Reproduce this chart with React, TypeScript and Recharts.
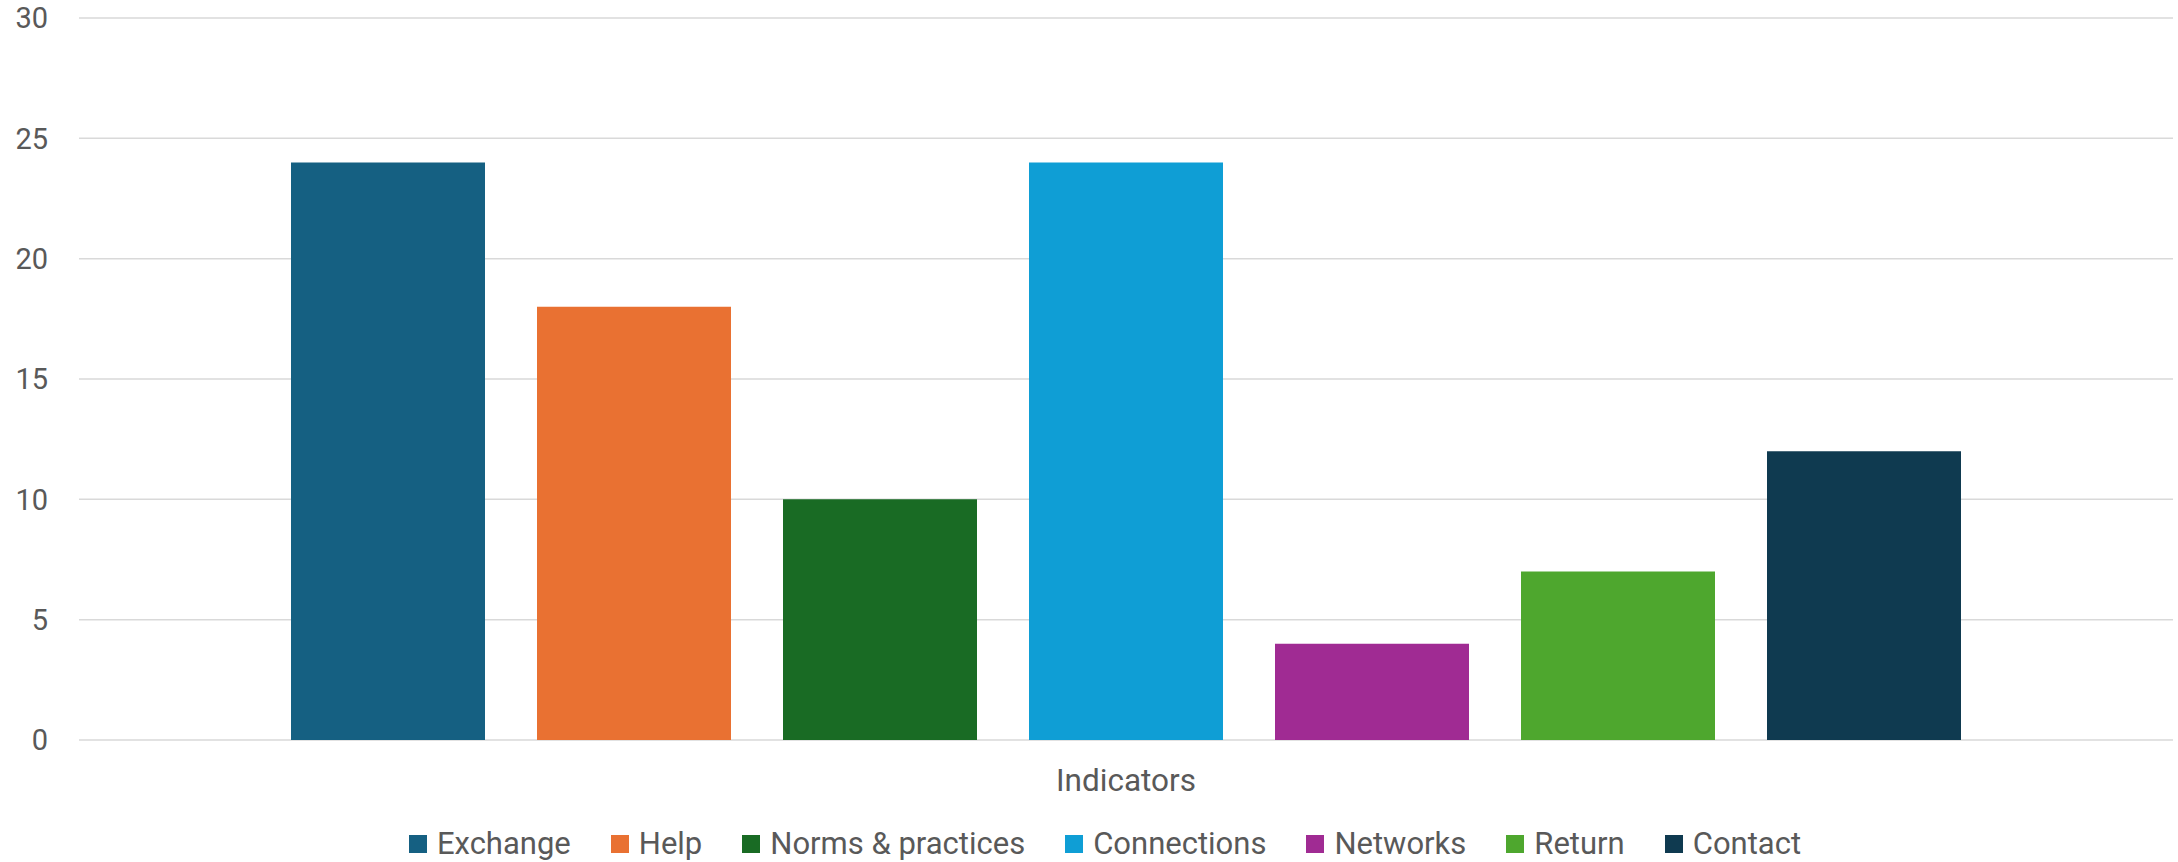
import { BarChart, Bar, XAxis, YAxis, CartesianGrid, Legend, Label } from 'recharts';

document.body.style.margin = '0';

const categories = ['Indicators'];
const seriesNames = ['Exchange', 'Help', 'Norms & practices', 'Connections', 'Networks', 'Return', 'Contact'];
const seriesValues = [24, 18, 10, 24, 4, 7, 12];
const seriesColors = ['#156082', '#E97132', '#196B24', '#0F9ED5', '#A02B93', '#4EA72E', '#0F3A50'];
const yTicks = [0, 5, 10, 15, 20, 25, 30];

const FONT = 'Roboto, "Noto Sans", sans-serif';
const TEXT = '#595959';

// one row, one key per series
const data = categories.map((cat) => {
  const row: Record<string, string | number> = { name: cat };
  seriesValues.forEach((v, i) => {
    row[`s${i}`] = v;
  });
  return row;
});

function LegendBox() {
  return (
    <div
      style={{
        height: 50,
        boxSizing: 'border-box',
        paddingTop: 14,
        paddingLeft: 32,
        display: 'flex',
        justifyContent: 'center',
        alignItems: 'flex-start',
        fontFamily: FONT,
        fontSize: 31,
        color: TEXT,
      }}
    >
      {seriesNames.map((n, i) => (
        <div key={n} style={{ display: 'flex', alignItems: 'center', marginLeft: i === 0 ? 0 : 40, height: 36 }}>
          <div style={{ width: 18, height: 18, background: seriesColors[i], marginRight: 10 }} />
          <span style={{ lineHeight: '36px' }}>{n}</span>
        </div>
      ))}
    </div>
  );
}

export default function App() {
  return (
    <div style={{ width: 2178, height: 862, background: '#fff' }}>
      <BarChart
        width={2178}
        height={862}
        data={data}
        margin={{ top: 18, right: 5, bottom: 0, left: 0 }}
        barSize={194}
        barGap={52}
      >
        <CartesianGrid vertical={false} stroke="#D9D9D9" strokeWidth={1.5} />
        <XAxis dataKey="name" height={72} tick={false} tickLine={false} axisLine={false}>
          <Label
            value="Indicators"
            position="insideTop"
            offset={29}
            style={{ fontFamily: FONT, fontSize: 31.5, fill: TEXT }}
          />
        </XAxis>
        <YAxis
          width={79}
          domain={[0, 30]}
          ticks={yTicks}
          axisLine={false}
          tickLine={false}
          tickSize={0}
          tickMargin={31}
          tick={{ fontFamily: FONT, fontSize: 29, fill: TEXT }}
        />
        <Legend
          verticalAlign="bottom"
          content={<LegendBox />}
          wrapperStyle={{ left: 0, width: 2178 }}
        />
        {seriesNames.map((n, i) => (
          <Bar key={n} dataKey={`s${i}`} name={n} fill={seriesColors[i]} isAnimationActive={false} />
        ))}
      </BarChart>
    </div>
  );
}
